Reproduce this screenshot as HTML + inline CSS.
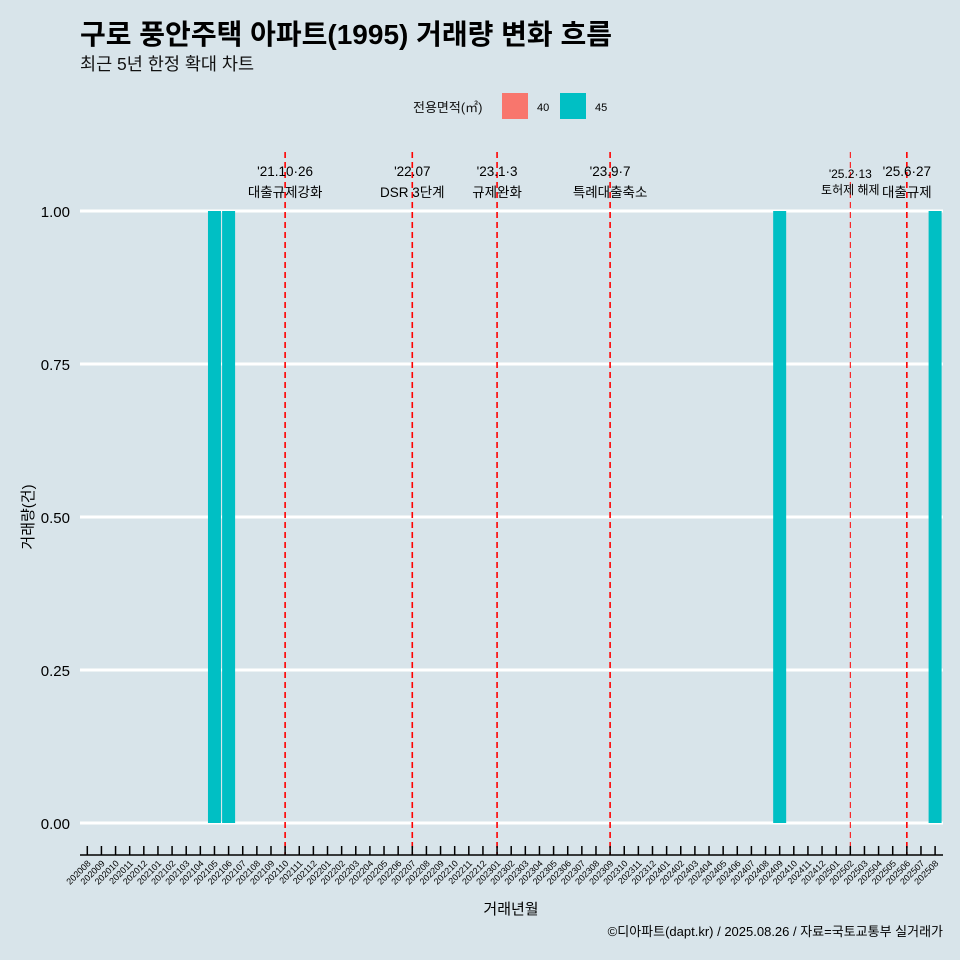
<!DOCTYPE html>
<html><head><meta charset="utf-8"><style>
body{margin:0;background:#d8e4ea;}
svg{display:block;font-family:"Liberation Sans","Noto Sans CJK KR",sans-serif;}
</style></head><body>
<svg id="chart" width="960" height="960" xmlns="http://www.w3.org/2000/svg">
<rect width="960" height="960" fill="#d8e4ea"/>
<text x="80" y="44" font-size="28" font-weight="bold" fill="#000">구로 풍안주택 아파트(1995) 거래량 변화 흐름</text>
<text x="80" y="70" font-size="17.5" fill="#111">최근 5년 한정 확대 차트</text>
<g>
<text x="413" y="112" font-size="13" fill="#111">전용면적(㎡)</text>
<rect x="502" y="93" width="26" height="26" fill="#f8766d"/>
<text x="537" y="111" font-size="11">40</text>
<rect x="560" y="93" width="26" height="26" fill="#00bfc4"/>
<text x="595" y="111" font-size="11">45</text>
</g>
<g id="grid"></g><g id="bars"></g><g id="events"></g><g id="axes"></g>
<text x="511" y="914" font-size="15" text-anchor="middle">거래년월</text>
<text transform="translate(33,517) rotate(-90)" font-size="15" text-anchor="middle">거래량(건)</text>
<text x="943" y="936" font-size="13" text-anchor="end">©디아파트(dapt.kr) / 2025.08.26 / 자료=국토교통부 실거래가</text>
</svg>
<script>
const months=[];for(let y=2020,m=8;y<2025||(y===2025&&m<=8);){months.push(''+y+(m<10?'0':'')+m);m++;if(m>12){m=1;y++;}}
const barMonths=['202105','202106','202409','202508'];
const barValues=[1,1,1,1];
const barSeries=['45','45','45','45'];
const yTicks=[0,0.25,0.5,0.75,1];
const yTickLabels=['0.00','0.25','0.50','0.75','1.00'];
const eventMonths=['202110','202207','202301','202309','202502','202506'];
const eventDates=["'21.10·26","'22.07","'23.1·3","'23.9·7","'25.2·13","'25.6·27"];
const eventLabels=["대출규제강화","DSR 3단계","규제완화","특례대출축소","토허제 해제","대출규제"];
const NS='http://www.w3.org/2000/svg';
function mk(t,a,p){const e=document.createElementNS(NS,t);for(const k in a)e.setAttribute(k,a[k]);p.appendChild(e);return e;}
const x=i=>87.3+i*14.13;
const y=v=>823-v*612;
const grid=document.getElementById('grid'),bars=document.getElementById('bars'),ev=document.getElementById('events'),ax=document.getElementById('axes');
yTicks.forEach((v,i)=>{
 const l=mk('line',{x1:80,x2:943,y1:y(v),y2:y(v),stroke:'#fff','stroke-width':3},grid);
 
 
 const t=mk('text',{x:70,y:y(v)+6,'font-size':15,'text-anchor':'end'},ax);t.textContent=yTickLabels[i];
 
 
});
const col={'40':'#f8766d','45':'#00bfc4'};
barMonths.forEach((m,i)=>{
 const idx=months.indexOf(m);
 const r=mk('rect',{x:x(idx)-6.5,y:y(barValues[i]),width:13,height:y(0)-y(barValues[i]),fill:col[barSeries[i]]},bars);
 
 
});
eventMonths.forEach((m,i)=>{
 const xx=x(months.indexOf(m));const thin=m==='202502';
 const l=mk('line',{x1:xx,x2:xx,y1:152,y2:855,stroke:'#ff0000','stroke-width':thin?1:1.6,'stroke-dasharray':'6,4'},ev);
 
 
 const fs=thin?12:13.5;
 const t1=mk('text',{x:xx,y:thin?178:176,'font-size':fs,'text-anchor':'middle'},ev);t1.textContent=eventDates[i];
 
 
 const t2=mk('text',{x:xx,y:thin?194:197,'font-size':fs,'text-anchor':'middle'},ev);t2.textContent=eventLabels[i];
 
 
});
const al=mk('line',{x1:80,x2:943,y1:855,y2:855,stroke:'#000','stroke-width':1.5},ax);


months.forEach((m,i)=>{
 const tk=mk('line',{x1:x(i),x2:x(i),y1:846,y2:855,stroke:'#000','stroke-width':1.5},ax);
 
 
 const t=mk('text',{transform:`translate(${x(i)+4},864) rotate(-45)`,'font-size':9,'text-anchor':'end'},ax);t.textContent=m;
 
 
});
</script>
</body></html>
